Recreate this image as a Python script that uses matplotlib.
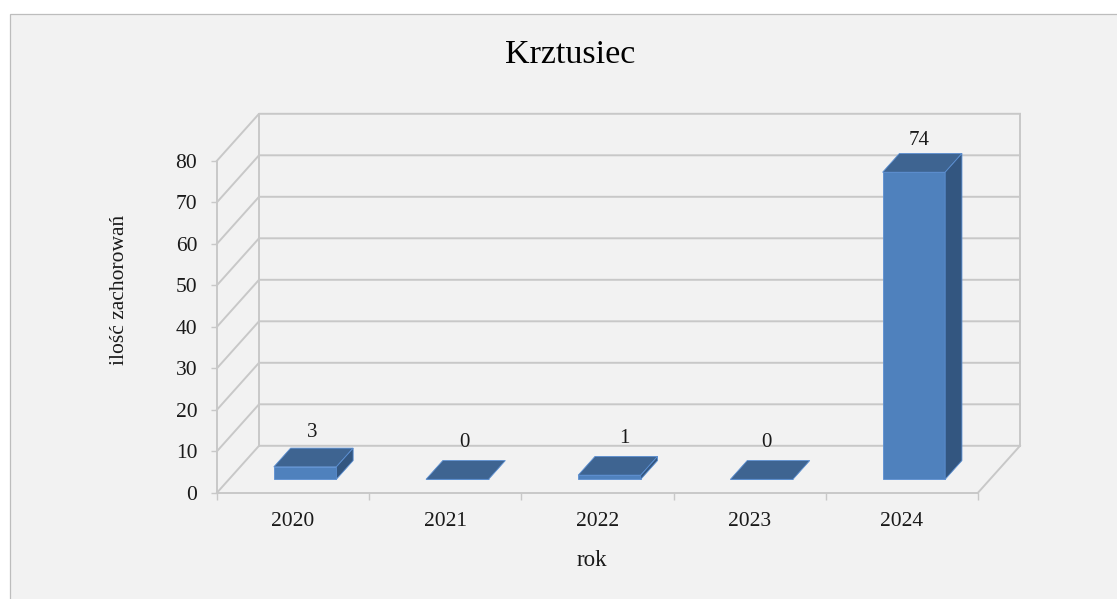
import matplotlib
matplotlib.use("Agg")
import matplotlib.pyplot as plt
from matplotlib.patches import Rectangle
import numpy as np

years = ["2020", "2021", "2022", "2023", "2024"]
cases = [3, 0, 1, 0, 74]
y_ticks = [0, 10, 20, 30, 40, 50, 60, 70, 80]
title = "Krztusiec"
x_label = "rok"
y_label = "ilość zachorowań"

W, H = 1117, 599
plt.rcParams["font.family"] = ["Liberation Serif", "DejaVu Serif"]
fig = plt.figure(figsize=(W / 100, H / 100), dpi=100, facecolor="white")

GRID = "#c8c8c8"
PANEL = "#f2f2f2"
FRONT, TOP, SIDE, EDGE = "#4f81bd", "#3e6491", "#335680", "#5b8fd2"
TEXT = "#1a1a1a"

fig.add_artist(Rectangle((10 / W, -0.1), 1.1, 1.1 - 14 / H, transform=fig.transFigure,
                         facecolor=PANEL, edgecolor="#bdbdbd", linewidth=0.9, zorder=-5))

ax = fig.add_axes([217 / W, (H - 492.7) / H, 761 / W, 332 / H])
ax.set_xlim(0, 5)
ax.set_ylim(0, 80)
ax.patch.set_visible(False)

# oblique depth of the chart box, in data units
DX, DY = 42 / (761 / 5), 46.9 / (332 / 80)
BAR_W = 0.411
GAP, DEPTH = 0.285, 0.40

line = dict(color=GRID, lw=1.4, clip_on=False, zorder=1, solid_capstyle="projecting")
for v in y_ticks:
    ax.plot([0, DX, 5 + DX], [v, v + DY, v + DY], **line)
ax.plot([DX, DX], [DY, 80 + DY], **line)
ax.plot([5 + DX, 5 + DX], [DY, 80 + DY], **line)
ax.plot([5, 5 + DX], [0, DY], **line)

centers = np.arange(len(years)) + 0.5
x0 = centers + GAP * DX
y0 = GAP * DY
ddx, ddy = DEPTH * DX, DEPTH * DY
ax.bar(x0, cases, width=BAR_W, bottom=y0, color=FRONT, edgecolor=EDGE, linewidth=0.6,
       clip_on=False, zorder=3)
label_nudge_x = [-1, -1, 6, -4, -3]
label_lift = [25, 27, 27, 27, 22]
for xc, v, nudge, lift in zip(x0, cases, label_nudge_x, label_lift):
    l, r, t = xc - BAR_W / 2, xc + BAR_W / 2, y0 + v
    ax.fill([l, r, r + ddx, l + ddx], [t, t, t + ddy, t + ddy], facecolor=TOP, edgecolor=EDGE,
            linewidth=0.6, clip_on=False, zorder=4)
    if v > 0:
        ax.fill([r, r + ddx, r + ddx, r], [y0, y0 + ddy, t + ddy, t], facecolor=SIDE, edgecolor=EDGE,
                linewidth=0.6, clip_on=False, zorder=4)
    ax.annotate(str(v), (xc + ddx / 2, t + ddy / 2), xytext=(nudge * 0.72, lift * 0.72),
                textcoords="offset points", ha="center", va="center", fontsize=15, color=TEXT, zorder=5)

for s in ("top", "right"):
    ax.spines[s].set_visible(False)
for s in ("left", "bottom"):
    ax.spines[s].set_color(GRID)
    ax.spines[s].set_linewidth(1.4)

ax.set_yticks(y_ticks)
ax.set_xticks(np.arange(len(years) + 1))
ax.set_xticklabels([])
ax.set_xticks(centers, years, minor=True)
ax.tick_params(axis="y", length=4.5, width=1, color=GRID, pad=9.7, labelsize=15.5, labelcolor=TEXT)
ax.tick_params(axis="x", which="major", length=5, width=1, color=GRID, direction="out")
ax.tick_params(axis="x", which="minor", length=0, pad=14, labelsize=15.5, labelcolor=TEXT)

fig.text(570 / W, 1 - 55 / H, title, ha="center", va="center", fontsize=24.5, color="black")
fig.text(592 / W, 1 - 560 / H, x_label, ha="center", va="center", fontsize=16.5, color=TEXT)
fig.text(120 / W, 1 - 290 / H, y_label, ha="center", va="center", rotation=90, fontsize=15.5, color=TEXT)

fig.savefig("out.png", dpi=100, facecolor="white")
